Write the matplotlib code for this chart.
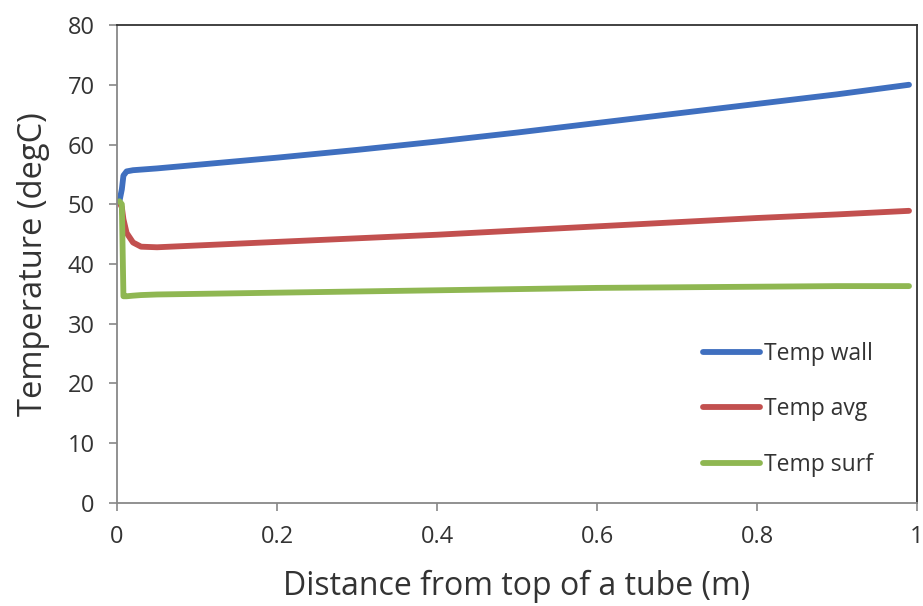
import matplotlib
matplotlib.use('Agg')
import matplotlib.pyplot as plt

plt.rcParams['font.family'] = ['Open Sans', 'DejaVu Sans']

x = [0.003, 0.006, 0.008, 0.012, 0.02, 0.03, 0.05, 0.1, 0.2, 0.3, 0.4, 0.5, 0.6, 0.7, 0.8, 0.9, 0.99]
temp_wall = [50.5, 52.5, 54.8, 55.5, 55.7, 55.8, 56.0, 56.6, 57.8, 59.1, 60.5, 62.0, 63.6, 65.2, 66.8, 68.4, 70.0]
temp_avg = [50.3, 49.5, 47.5, 45.2, 43.6, 42.9, 42.8, 43.1, 43.7, 44.3, 44.9, 45.6, 46.3, 47.0, 47.7, 48.3, 48.9]
temp_surf = [50.5, 50.0, 34.6, 34.6, 34.7, 34.8, 34.9, 35.0, 35.2, 35.4, 35.6, 35.8, 36.0, 36.1, 36.2, 36.3, 36.3]

labels = ['Temp wall', 'Temp avg', 'Temp surf']
colors = ['#3f6fbf', '#c2504f', '#8fb752']

fig = plt.figure(figsize=(9.23, 6.06), dpi=100)
ax = fig.add_axes([0.1268, 0.170, 0.8667, 0.7887])

for y, lab, c in zip([temp_wall, temp_avg, temp_surf], labels, colors):
    ax.plot(x, y, color=c, lw=4.2, label=lab, solid_capstyle='round')

ax.set_xlim(0, 1)
ax.set_ylim(0, 80)
ax.set_xticks([0, 0.2, 0.4, 0.6, 0.8, 1])
ax.set_xticklabels(['0', '0.2', '0.4', '0.6', '0.8', '1'])
ax.set_yticks(range(0, 81, 10))
ax.tick_params(axis='both', labelsize=17, colors='#888888', labelcolor='#333333', length=6, width=1.2)
ax.tick_params(axis='x', pad=10)
ax.tick_params(axis='y', pad=10)

ax.spines['left'].set_color('#888888')
ax.spines['bottom'].set_color('#888888')
ax.spines['top'].set_color('#333333')
ax.spines['right'].set_color('#333333')
for s in ax.spines.values():
    s.set_linewidth(1.3)

ax.set_xlabel('Distance from top of a tube (m)', fontsize=23, color='#333333', labelpad=15)
ax.set_ylabel('Temperature (degC)', fontsize=23.5, color='#333333', labelpad=13)

leg = ax.legend(loc='upper left', bbox_to_anchor=(0.7325, 0.337), frameon=False, fontsize=16.5,
                labelspacing=1.37, handlelength=2.5, handletextpad=0.15,
                borderpad=0, borderaxespad=0)
for t in leg.get_texts():
    t.set_color('#333333')

fig.savefig('out.png', dpi=100)
